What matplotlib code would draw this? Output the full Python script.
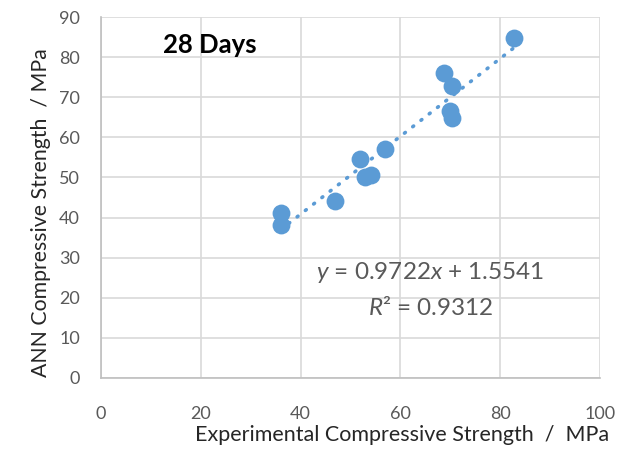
import numpy as np
import matplotlib.pyplot as plt

# Experimental vs ANN predicted compressive strength at 28 days (MPa)
experimental = [36.0, 36.0, 46.9, 51.9, 52.9, 54.2, 56.9, 68.7, 70.3, 69.9, 70.4, 82.8]
ann_predicted = [41.1, 38.2, 44.1, 54.6, 50.2, 50.5, 57.0, 76.1, 72.9, 66.6, 64.8, 84.7]
x_ticks = [0, 20, 40, 60, 80, 100]
y_ticks = [0, 10, 20, 30, 40, 50, 60, 70, 80, 90]

plt.rcParams['font.family'] = ['Lato', 'DejaVu Sans']
plt.rcParams['mathtext.fontset'] = 'custom'
plt.rcParams['mathtext.rm'] = 'Lato'
plt.rcParams['mathtext.it'] = 'Lato:italic'

blue = '#5B9BD5'
grid_grey = '#D9D9D9'
text_grey = '#595959'

fig = plt.figure(figsize=(6.27, 4.5), dpi=100)
ax = fig.add_axes([0.161, 0.16, 0.796, 0.802])

# Linear trendline
slope, intercept = np.polyfit(experimental, ann_predicted, 1)
x_line = np.array([min(experimental), max(experimental)])
ax.plot(x_line, slope * x_line + intercept, color=blue, linewidth=2.6,
        linestyle=(0, (0.3, 2.6)), dash_capstyle='round', zorder=2)

ax.scatter(experimental, ann_predicted, s=165, color=blue, zorder=3, linewidths=0)

ax.set_xlim(0, 100)
ax.set_ylim(0, 90)
ax.set_xticks(x_ticks)
ax.set_yticks(y_ticks)
ax.grid(True, color=grid_grey, linewidth=1.2)
ax.set_axisbelow(True)
ax.tick_params(length=0, labelsize=13, colors=text_grey)
ax.tick_params(axis='x', pad=20)
ax.tick_params(axis='y', pad=15)
for side in ['top', 'right']:
    ax.spines[side].set_visible(False)
for side in ['left', 'bottom']:
    ax.spines[side].set_color('#BFBFBF')
    ax.spines[side].set_linewidth(1.2)

ax.set_xlabel('Experimental Compressive Strength  /  MPa', fontsize=15.5,
              color='#262626', x=0.603, labelpad=2)
ax.set_ylabel('ANN Compressive Strength  / MPa', fontsize=15.3,
              color='#262626', y=0.457, labelpad=6)

ax.text(12.4, 83, '28 Days', fontsize=18.5, fontweight='bold', color='black',
        va='center', ha='left')
ax.text(66, 26.4, r'$y$ = 0.9722$x$ + 1.5541', fontsize=17.5, color=text_grey,
        ha='center', va='center')
ax.text(66, 17.7, r'$R$² = 0.9312', fontsize=17.5, color=text_grey,
        ha='center', va='center')

fig.savefig('out.png', dpi=100)
